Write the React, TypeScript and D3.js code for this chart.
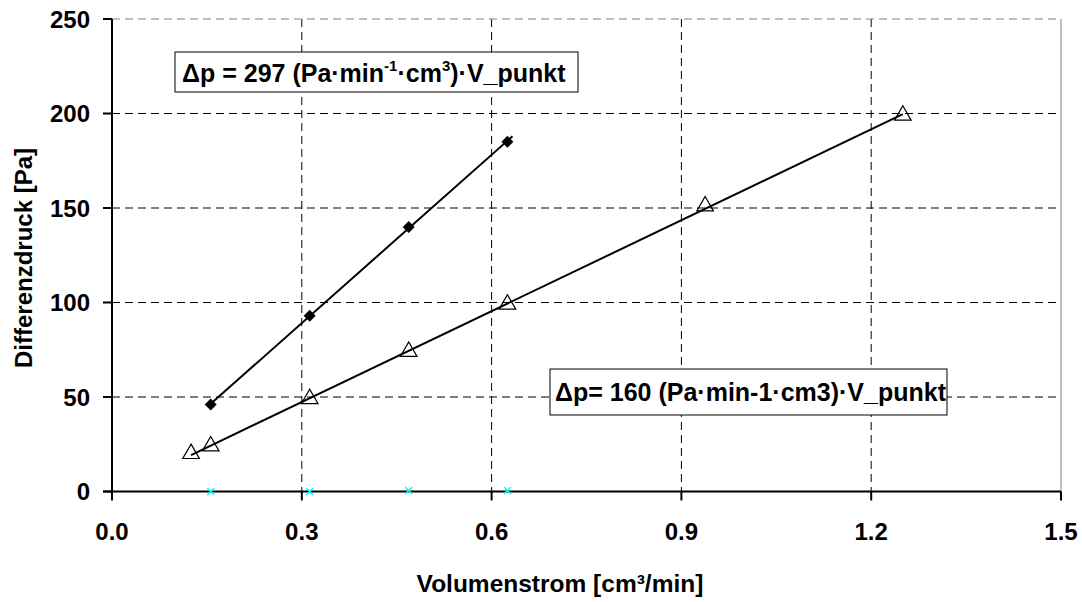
import React from "react";
import * as d3 from "d3";

// Data
const diamondX = [0.156, 0.3125, 0.469, 0.625];
const diamondY = [46, 93, 140, 185];
const triangleX = [0.125, 0.156, 0.3125, 0.469, 0.625, 0.9375, 1.25];
const triangleY = [20, 24, 49, 74, 99, 151, 199];
const crossX = [0.156, 0.3125, 0.469, 0.625];
const crossY = [0, 0, 0.5, 0.5];
const xTicks = [0, 0.3, 0.6, 0.9, 1.2, 1.5];
const yTicks = [0, 50, 100, 150, 200, 250];
const diamondTrendForward = 0.008;

const W = 1082;
const H = 602;
const M = { left: 112, right: 1061, top: 19, bottom: 491.5 };
const FONT = "'Liberation Sans', Arial, Helvetica, sans-serif";

function fit(xs: number[], ys: number[]) {
  const mx = d3.mean(xs)!;
  const my = d3.mean(ys)!;
  let num = 0;
  let den = 0;
  xs.forEach((x, i) => {
    num += (x - mx) * (ys[i] - my);
    den += (x - mx) * (x - mx);
  });
  const b = num / den;
  return { b, a: my - b * mx };
}

export default function App() {
  const x = d3.scaleLinear().domain([0, 1.5]).range([M.left, M.right]);
  const y = d3.scaleLinear().domain([0, 250]).range([M.bottom, M.top]);
  const line = d3
    .line<[number, number]>()
    .x((d) => x(d[0]))
    .y((d) => y(d[1]));

  const f1 = fit(diamondX, diamondY);
  const x1a = d3.min(diamondX)!;
  const x1b = d3.max(diamondX)! + diamondTrendForward;
  const f2 = fit(triangleX, triangleY);
  const x2a = d3.min(triangleX)!;
  const x2b = d3.max(triangleX)!;

  const tri = d3.symbol().type(d3.symbolTriangle).size(120)()!;
  const dia = d3.symbol().type(d3.symbolSquare).size(72)()!;

  return (
    <svg
      width={W}
      height={H}
      style={{ position: "absolute", left: 0, top: 0, background: "#fff" }}
      fontFamily={FONT}
      fontWeight="bold"
    >
      {/* gridlines */}
      {yTicks
        .filter((t) => t > 0 && t < 250)
        .map((t) => (
          <line key={"gy" + t} x1={M.left} x2={M.right} y1={y(t)} y2={y(t)} stroke="#000" strokeWidth={1} strokeDasharray="8,5" />
        ))}
      {xTicks
        .filter((t) => t > 0 && t < 1.5)
        .map((t) => (
          <line key={"gx" + t} x1={x(t)} x2={x(t)} y1={M.top} y2={M.bottom} stroke="#000" strokeWidth={1} strokeDasharray="8,5" />
        ))}
      {/* plot frame top/right */}
      <line x1={M.left} x2={M.right} y1={y(250)} y2={y(250)} stroke="#808080" strokeWidth={1} strokeDasharray="8,5" />
      <line x1={M.right} x2={M.right} y1={M.top} y2={M.bottom} stroke="#808080" strokeWidth={1} />

      {/* trend lines */}
      <path d={line([[x1a, f1.a + f1.b * x1a], [x1b, f1.a + f1.b * x1b]])!} stroke="#000" strokeWidth={2} fill="none" />
      <path d={line([[x2a, f2.a + f2.b * x2a], [x2b, f2.a + f2.b * x2b]])!} stroke="#000" strokeWidth={2} fill="none" />

      {/* axes */}
      <line x1={M.left} x2={M.left} y1={M.top} y2={M.bottom} stroke="#000" strokeWidth={2} />
      <line x1={M.left - 9} x2={M.right} y1={M.bottom} y2={M.bottom} stroke="#000" strokeWidth={2} />
      {yTicks.map((t) => (
        <g key={"yt" + t}>
          <line x1={M.left - 9} x2={M.left} y1={y(t)} y2={y(t)} stroke="#000" strokeWidth={2} />
          <text x={90} y={y(t)} dy="0.36em" textAnchor="end" fontSize={24}>
            {t}
          </text>
        </g>
      ))}
      {xTicks.map((t) => (
        <g key={"xt" + t}>
          <line x1={x(t)} x2={x(t)} y1={M.bottom} y2={M.bottom + 9} stroke="#000" strokeWidth={2} />
          <text x={x(t)} y={540} textAnchor="middle" fontSize={24}>
            {d3.format(".1f")(t)}
          </text>
        </g>
      ))}

      {/* markers */}
      {crossX.map((cx, i) => (
        <g key={"c" + i} transform={`translate(${x(cx)},${y(crossY[i])})`} stroke="#00FFFF" strokeWidth={1.5}>
          <line x1={-3.5} y1={-3.5} x2={3.5} y2={3.5} />
          <line x1={-3.5} y1={3.5} x2={3.5} y2={-3.5} />
        </g>
      ))}
      {triangleX.map((tx, i) => (
        <path key={"t" + i} d={tri} transform={`translate(${x(tx)},${y(triangleY[i])})`} fill="#fff" fillOpacity={0} stroke="#000" strokeWidth={1.2} />
      ))}
      {diamondX.map((dx, i) => (
        <path key={"d" + i} d={dia} transform={`translate(${x(dx)},${y(diamondY[i])}) rotate(45)`} fill="#000" />
      ))}

      {/* annotation boxes */}
      <rect x={175} y={52} width={403} height={40} fill="#fff" stroke="#000" strokeWidth={1} />
      <text x={182} y={82} fontSize={25}>
        Δp = 297 (Pa·min
        <tspan fontSize={15} dy={-11}>-1</tspan>
        <tspan dy={11}>·cm</tspan>
        <tspan fontSize={15} dy={-11}>3</tspan>
        <tspan dy={11}>)·V_punkt</tspan>
      </text>
      <rect x={550} y={369} width={397} height={46} fill="#fff" stroke="#000" strokeWidth={1} />
      <text x={555} y={401} fontSize={25}>
        Δp= 160 (Pa·min-1·cm3)·V_punkt
      </text>

      {/* axis titles */}
      <text x={560} y={592} textAnchor="middle" fontSize={24.5}>
        Volumenstrom [cm³/min]
      </text>
      <text transform={`translate(32,258) rotate(-90)`} textAnchor="middle" fontSize={24}>
        Differenzdruck [Pa]
      </text>
    </svg>
  );
}
